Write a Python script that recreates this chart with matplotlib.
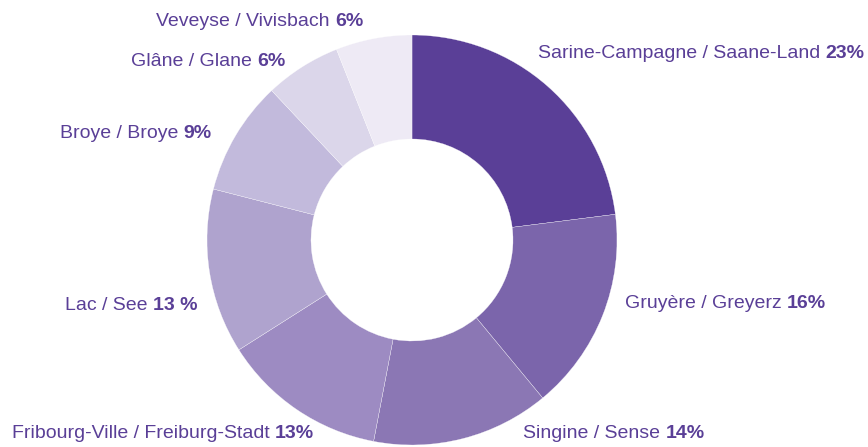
import matplotlib.pyplot as plt

plt.rcParams['font.family'] = ['Liberation Sans', 'DejaVu Sans']

districts = ['Sarine-Campagne / Saane-Land', 'Gruyère / Greyerz', 'Singine / Sense',
             'Fribourg-Ville / Freiburg-Stadt', 'Lac / See', 'Broye / Broye',
             'Glâne / Glane', 'Veveyse / Vivisbach']
shares = [23, 16, 14, 13, 13, 9, 6, 6]
share_labels = ['23%', '16%', '14%', '13%', '13 %', '9%', '6%', '6%']
colors = ['#5a3f97', '#7b65ab', '#8b77b4', '#9d8bc2', '#afa3ce', '#c2badc', '#dbd6ea', '#eeeaf5']
text_color = '#5a3f97'

# label anchor (left edge, vertical centre) in pixel coords of the 868x447 picture
label_pos = [(538, 54), (625, 304), (523, 434), (12, 434), (65, 305), (60, 133), (131, 62), (156, 22)]

W, H = 868, 447
fig = plt.figure(figsize=(W / 100, H / 100), dpi=100)
ax = fig.add_axes([0, 0, 1, 1])
ax.axis('off')

ax.pie(shares, colors=colors, startangle=90, counterclock=False,
       center=(412, H - 240), radius=205,
       wedgeprops=dict(width=104, edgecolor='white', linewidth=0.2))
ax.set_xlim(0, W)
ax.set_ylim(0, H)
ax.set_aspect('equal')

for name, pct, (x, y) in zip(districts, share_labels, label_pos):
    t = ax.text(x, H - y, name + ' ', ha='left', va='center', fontsize=14, color=text_color)
    ax.annotate(pct, xy=(1, 0), xycoords=t, ha='left', va='bottom',
                fontsize=14, fontweight='bold', color=text_color)

fig.savefig('out.png', dpi=100)
